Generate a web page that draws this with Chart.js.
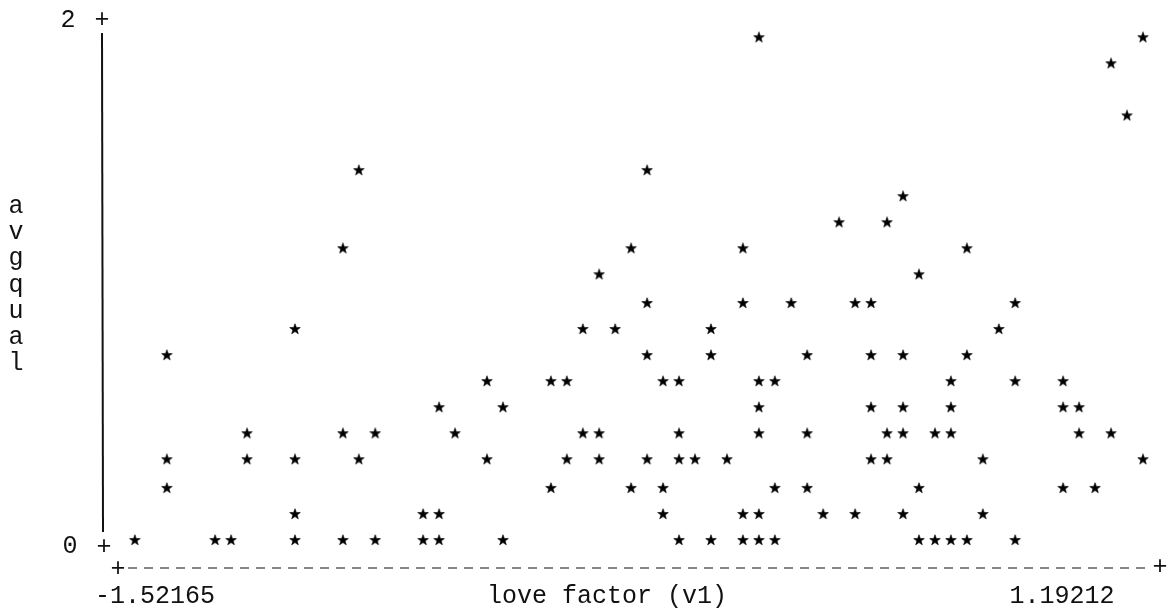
<!DOCTYPE html>
<html lang="en">

<head>
  <meta charset="UTF-8" />
  <title>avgqual vs love factor</title>
  <style>
    * {
      box-sizing: border-box;
      margin: 0;
      padding: 0;
    }

    html,
    body {
      width: 100%;
      height: 100%;
      background: #fff;
    }

    #wrap {
      width: 1168px;
      height: 611px;
    }
  </style>
  <script src="https://cdn.jsdelivr.net/npm/chart.js@4/dist/chart.umd.min.js"></script>
</head>

<body>
  <div id="wrap">
    <canvas id="plot" width="1168" height="611"></canvas>
  </div>

  <script>
    // avgqual rows (text plot rows) and love factor values on each row
    const avgqualLevels = [0, 0.10, 0.20, 0.31, 0.41, 0.51, 0.61, 0.71, 0.81, 0.91, 1.02, 1.12, 1.22, 1.32, 1.42, 1.63, 1.83, 1.93];

    const loveFactorByLevel = [
      [-1.522, -1.306, -1.263, -1.091, -0.962, -0.875, -0.746, -0.703, -0.531, -0.057, 0.029, 0.115, 0.158, 0.201, 0.589, 0.632, 0.675, 0.718, 0.848],
      [-1.091, -0.746, -0.703, -0.100, 0.115, 0.158, 0.331, 0.417, 0.546, 0.761],
      [-1.436, -0.402, -0.186, -0.100, 0.201, 0.288, 0.589, 0.977, 1.063],
      [-1.436, -1.220, -1.091, -0.919, -0.574, -0.359, -0.272, -0.143, -0.057, -0.014, 0.072, 0.460, 0.503, 0.761, 1.192],
      [-1.220, -0.962, -0.875, -0.660, -0.316, -0.272, -0.057, 0.158, 0.288, 0.503, 0.546, 0.632, 0.675, 1.020, 1.106],
      [-0.703, -0.531, 0.158, 0.460, 0.546, 0.675, 0.977, 1.020],
      [-0.574, -0.402, -0.359, -0.100, -0.057, 0.158, 0.201, 0.675, 0.848, 0.977],
      [-1.436, -0.143, 0.029, 0.288, 0.460, 0.546, 0.718],
      [-1.091, -0.316, -0.229, 0.029, 0.804],
      [-0.143, 0.115, 0.245, 0.417, 0.460, 0.848],
      [-0.272, 0.589],
      [-0.962, -0.186, 0.115, 0.718],
      [0.374, 0.503],
      [0.546],
      [-0.919, -0.143],
      [1.149],
      [1.106],
      [0.158, 1.192]
    ];

    // axis range / tick labels
    const xRange = [-1.52165, 1.19212];
    const xTickLabels = ['-1.52165', '1.19212'];
    const yTicks = [0, 2];
    const xTitle = 'love factor (v1)';
    const yTitle = 'avgqual';

    const points = [];
    avgqualLevels.forEach((y, i) => {
      loveFactorByLevel[i].forEach(x => points.push({ x, y }));
    });

    // little typewriter asterisk
    const star = document.createElement('canvas');
    star.width = 12;
    star.height = 12;
    (function () {
      const c = star.getContext('2d');
      c.fillStyle = '#000';
      c.strokeStyle = '#000';
      c.lineWidth = 0.6;
      c.beginPath();
      for (let k = 0; k < 10; k++) {
        const r = k % 2 === 0 ? 5.6 : 2.3;
        const a = -Math.PI / 2 + k * Math.PI / 5;
        const px = 6 + r * Math.cos(a), py = 6.3 + r * Math.sin(a);
        if (k === 0) c.moveTo(px, py); else c.lineTo(px, py);
      }
      c.closePath();
      c.fill();
      c.stroke();
    })();

    const FONT = '25px "Liberation Mono", "Courier New", monospace';

    // text-plot style axes
    const textAxes = {
      id: 'textAxes',
      afterDraw(chart) {
        const { ctx, scales: { x, y } } = chart;
        const y0 = y.getPixelForValue(yTicks[0]);
        const y2 = y.getPixelForValue(yTicks[1]);
        const xMin = x.getPixelForValue(xRange[0]);
        const xMax = x.getPixelForValue(xRange[1]);
        const axisX = xMin - 33;
        const axisY = y0 + 28;

        ctx.save();
        ctx.fillStyle = '#111';
        ctx.strokeStyle = '#111';
        ctx.font = FONT;
        ctx.textAlign = 'center';
        ctx.textBaseline = 'middle';

        // y axis
        ctx.lineWidth = 2;
        ctx.beginPath();
        ctx.moveTo(axisX, y2 + 14);
        ctx.lineTo(axisX + 1, y0 - 8);
        ctx.stroke();
        ctx.fillText(String(yTicks[1]), axisX - 34, y2 + 1);
        ctx.fillText('+', axisX, y2 + 1);
        ctx.fillText(String(yTicks[0]), axisX - 32, y0 + 6);
        ctx.fillText('+', axisX + 2, y0 + 7);

        // y title, stacked letters
        [...yTitle].forEach((ch, i) => ctx.fillText(ch, 16, 206 + i * 26.3));

        // x axis, dashed
        ctx.fillText('+', xMin - 17, axisY + 1);
        ctx.fillText('+', xMax + 17, axisY - 1);
        ctx.lineWidth = 1.2;
        ctx.setLineDash([9, 7]);
        ctx.beginPath();
        ctx.moveTo(xMin - 7, axisY);
        ctx.lineTo(xMax + 9, axisY);
        ctx.stroke();
        ctx.setLineDash([]);

        ctx.textBaseline = 'alphabetic';
        ctx.fillText(xTickLabels[0], xMin + 20, y0 + 63);
        ctx.fillText(xTickLabels[1], xMax - 81, y0 + 63);
        ctx.fillText(xTitle, (xMin + xMax) / 2 - 32, y0 + 63);
        ctx.restore();
      }
    };

    new Chart(document.getElementById('plot'), {
      type: 'scatter',
      data: {
        datasets: [{
          data: points,
          pointStyle: star,
          pointRadius: 6,
          clip: false
        }]
      },
      options: {
        responsive: false,
        animation: false,
        layout: { padding: { left: 135, right: 25, top: 19, bottom: 71 } },
        scales: {
          x: { type: 'linear', display: false, min: xRange[0], max: xRange[1] },
          y: { type: 'linear', display: false, min: yTicks[0], max: yTicks[1] }
        },
        plugins: { legend: { display: false }, tooltip: { enabled: false } }
      },
      plugins: [textAxes]
    });
  </script>
</body>

</html>
